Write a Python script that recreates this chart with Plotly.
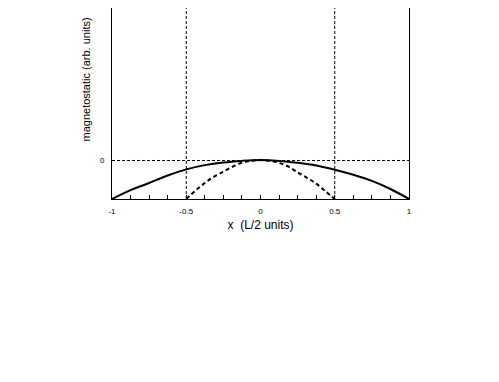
import plotly.graph_objects as go

# full-width curve (solid)
x_wide = [-1, -0.875, -0.75, -0.625, -0.5, -0.375, -0.25, -0.125, 0,
          0.125, 0.25, 0.375, 0.5, 0.625, 0.75, 0.875, 1]
y_wide = [-1, -0.77, -0.585, -0.39, -0.23, -0.12, -0.05, -0.01, 0.01,
          -0.01, -0.06, -0.13, -0.24, -0.37, -0.53, -0.74, -1]

# half-width curve (dashed)
x_narrow = [-0.5, -0.4375, -0.375, -0.3125, -0.25, -0.1875, -0.125, -0.0625, 0,
            0.0625, 0.125, 0.1875, 0.25, 0.3125, 0.375, 0.4375, 0.5]
y_narrow = [-1, -0.78, -0.585, -0.42, -0.29, -0.16, -0.06, -0.01, 0.01,
            -0.01, -0.06, -0.16, -0.31, -0.45, -0.6, -0.8, -1]

x_ticks = [-1, -0.5, 0, 0.5, 1]
x_labels = ['-1', '-0.5', '0', '0.5', '1']
edges = [-0.5, 0.5]

fig = go.Figure()
fig.add_trace(go.Scatter(x=x_wide, y=y_wide, mode='lines', line_shape='spline',
                         line=dict(color='black', width=2), showlegend=False))
fig.add_trace(go.Scatter(x=x_narrow, y=y_narrow, mode='lines', line_shape='spline',
                         line=dict(color='black', width=2, dash='4px,3px'), showlegend=False))

# reference lines
fig.add_shape(type='line', xref='paper', yref='y', x0=0, x1=1.01, y0=0, y1=0,
              line=dict(color='black', width=1, dash='3px,2px'))
for e in edges:
    fig.add_shape(type='line', xref='x', yref='paper', x0=e, x1=e, y0=0, y1=1,
                  line=dict(color='black', width=1, dash='3px,2px'))

fig.add_annotation(text='magnetostatic (arb. units)', textangle=-90,
                   xref='paper', yref='paper', x=-0.088, y=0.625,
                   xanchor='center', yanchor='middle', showarrow=False,
                   font=dict(size=11, color='black'))

fig.update_layout(
    width=499, height=382,
    margin=dict(l=104, r=98, t=0, b=191),
    paper_bgcolor='white', plot_bgcolor='white',
    font=dict(family='Liberation Sans, Arial', color='black'),
    xaxis=dict(range=[-1, 1], tickvals=x_ticks, ticktext=x_labels,
               ticks='inside', ticklen=4, tickcolor='black', tickfont=dict(size=8),
               ticklabelstandoff=4,
               minor=dict(dtick=0.125, tick0=-1, ticks='inside', ticklen=4, tickcolor='black'),
               showline=True, linecolor='black', linewidth=1, showgrid=False, zeroline=False,
               title=dict(text='x  (L/2 units)', font=dict(size=12), standoff=6)),
    yaxis=dict(range=[-1, 3.96], tickvals=[0], ticktext=['0'], ticks='',
               tickfont=dict(size=8), ticklabelstandoff=5,
               showline=True, linecolor='black', linewidth=1, mirror=True,
               showgrid=False, zeroline=False),
)

fig.write_html('out.html')
